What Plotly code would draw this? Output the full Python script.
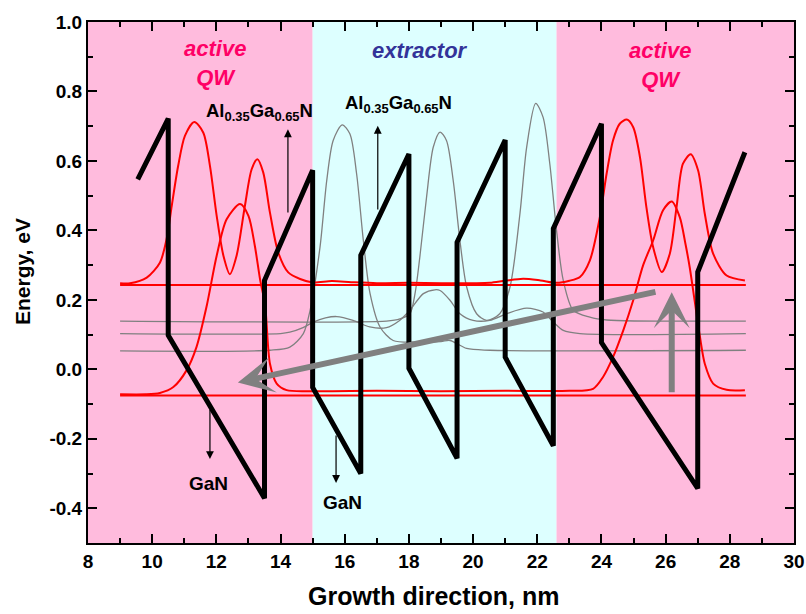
import plotly.graph_objects as go

FONT = "Liberation Sans, Arial, sans-serif"

# ---------------- data ----------------
# conduction band profile (thick black)
cb_x = [9.55, 10.5, 10.5, 13.5, 13.5, 15.0, 15.0, 16.5, 16.5, 18.0, 18.0, 19.5, 19.5,
        21.0, 21.0, 22.5, 22.5, 24.0, 24.0, 27.0, 27.0, 28.47]
cb_y = [0.547, 0.722, 0.098, -0.371, 0.256, 0.573, -0.052, -0.30, 0.328, 0.62, 0.003,
        -0.256, 0.366, 0.66, 0.035, -0.22, 0.405, 0.707, 0.077, -0.343, 0.28, 0.625]

# flat red energy levels
level_x = [9.0, 28.5]
level_upper = [0.243, 0.243]
level_lower = [-0.075, -0.075]

# upper active-QW wavefunction (red), baseline ~0.25
wf_up_x = [9.0, 9.31, 9.83, 10.24, 10.45, 10.61, 10.81, 11.02, 11.31, 11.59, 11.8, 12.01,
           12.22, 12.42, 12.63, 12.89, 13.1, 13.28, 13.46, 13.67, 13.93, 14.24, 14.61,
           15.0, 15.6, 16.2, 17.0, 18.0, 19.0, 20.0, 20.52, 21.0, 21.56, 22.1, 22.6,
           23.0, 23.33, 23.64, 23.95, 24.16, 24.36, 24.57, 24.79, 24.99, 25.2, 25.4,
           25.61, 25.88, 26.13, 26.34, 26.54, 26.78, 27.01, 27.22, 27.48, 27.9, 28.47]
wf_up_y = [0.248, 0.248, 0.264, 0.307, 0.375, 0.471, 0.586, 0.672, 0.712, 0.682, 0.586,
           0.442, 0.327, 0.274, 0.327, 0.471, 0.576, 0.605, 0.567, 0.451, 0.336, 0.279,
           0.26, 0.25, 0.254, 0.251, 0.248, 0.249, 0.248, 0.248, 0.249, 0.255, 0.261,
           0.256, 0.249, 0.255, 0.266, 0.314, 0.438, 0.563, 0.659, 0.707, 0.719, 0.697,
           0.611, 0.467, 0.352, 0.28, 0.333, 0.467, 0.592, 0.619, 0.573, 0.448, 0.333,
           0.27, 0.256]

# lower active-QW wavefunction (red), baseline ~ -0.063
wf_lo_x = [9.0, 9.8, 10.24, 10.66, 11.07, 11.38, 11.7, 12.01, 12.32, 12.74, 13.0, 13.2,
           13.36, 13.52, 13.67, 13.88, 14.19, 15.0, 17.0, 19.0, 21.0, 23.0, 23.74,
           24.05, 24.36, 24.68, 24.99, 25.3, 25.61, 25.92, 26.19, 26.44, 26.62, 26.75,
           26.9, 27.07, 27.22, 27.48, 27.9, 28.47]
wf_lo_y = [-0.072, -0.072, -0.068, -0.051, -0.003, 0.064, 0.183, 0.327, 0.432, 0.476,
           0.442, 0.355, 0.26, 0.183, 0.016, -0.041, -0.06, -0.063, -0.062, -0.063,
           -0.062, -0.062, -0.056, -0.022, 0.035, 0.112, 0.199, 0.30, 0.371, 0.458,
           0.483, 0.438, 0.36, 0.294, 0.20, 0.093, 0.016, -0.041, -0.059, -0.06]

# extractor wavefunctions (gray)
g1_x = [9.0, 17.3, 17.72, 18.03, 18.19, 18.34, 18.55, 18.76, 18.97, 19.17, 19.38, 19.59,
        19.8, 20.11, 20.42, 20.83, 21.15, 21.46, 21.67, 21.95, 22.18, 22.39, 22.6,
        22.81, 23.12, 23.64, 24.16, 28.5]
g1_y = [0.139, 0.139, 0.145, 0.16, 0.218, 0.323, 0.496, 0.64, 0.683, 0.659, 0.544, 0.371,
        0.237, 0.16, 0.141, 0.16, 0.237, 0.448, 0.64, 0.766, 0.726, 0.592, 0.40, 0.256,
        0.17, 0.15, 0.142, 0.139]

g2_x = [9.0, 14.0, 14.29, 14.7, 15.02, 15.4, 15.75, 16.26, 16.78, 17.3, 17.7, 18.03,
        18.45, 18.81, 18.97, 19.28, 19.59, 20.0, 20.52, 21.04, 21.67, 22.18, 22.5,
        22.81, 23.33, 28.5]
g2_y = [0.103, 0.103, 0.107, 0.12, 0.136, 0.148, 0.152, 0.141, 0.122, 0.12, 0.14, 0.17,
        0.218, 0.229, 0.227, 0.199, 0.16, 0.141, 0.141, 0.16, 0.176, 0.165, 0.136,
        0.112, 0.103, 0.103]

g3_x = [9.0, 13.67, 14.29, 14.71, 14.92, 15.23, 15.44, 15.64, 15.92, 16.16, 16.37, 16.58,
        16.79, 17.1, 17.51, 18.2, 19.0, 19.28, 19.8, 20.52, 28.5]
g3_y = [0.053, 0.055, 0.064, 0.103, 0.17, 0.352, 0.544, 0.659, 0.704, 0.678, 0.563,
        0.371, 0.218, 0.122, 0.083, 0.078, 0.08, 0.083, 0.06, 0.055, 0.055]

# region shading (x-ranges)
region_x0 = [8.0, 15.0, 22.6]
region_x1 = [15.0, 22.6, 30.0]
region_color = ["#FFBBDD", "#DDFFFF", "#FFBBDD"]

# axis ticks
x_tickvals = [8, 10, 12, 14, 16, 18, 20, 22, 24, 26, 28, 30]
x_ticktext = ["8", "10", "12", "14", "16", "18", "20", "22", "24", "26", "28", "30"]
y_tickvals = [-0.4, -0.2, 0.0, 0.2, 0.4, 0.6, 0.8, 1.0]
y_ticktext = ["-0.4", "-0.2", "0.0", "0.2", "0.4", "0.6", "0.8", "1.0"]

# ---------------- figure ----------------
fig = go.Figure()

for xs, ys in [(g1_x, g1_y), (g2_x, g2_y), (g3_x, g3_y)]:
    fig.add_trace(go.Scatter(x=xs, y=ys, mode="lines", line=dict(color="#808080", width=1.3, shape="spline", smoothing=0.8),
                             hoverinfo="skip", showlegend=False))

fig.add_trace(go.Scatter(x=level_x, y=level_upper, mode="lines", line=dict(color="#FF0000", width=2), showlegend=False))
fig.add_trace(go.Scatter(x=level_x, y=level_lower, mode="lines", line=dict(color="#FF0000", width=2), showlegend=False))
fig.add_trace(go.Scatter(x=wf_up_x, y=wf_up_y, mode="lines", line=dict(color="#FF0000", width=2, shape="spline", smoothing=0.8), showlegend=False))
fig.add_trace(go.Scatter(x=wf_lo_x, y=wf_lo_y, mode="lines", line=dict(color="#FF0000", width=2, shape="spline", smoothing=0.8), showlegend=False))

fig.add_trace(go.Scatter(x=cb_x, y=cb_y, mode="lines", line=dict(color="#000000", width=5), showlegend=False))

shapes = []
for x0, x1, c in zip(region_x0, region_x1, region_color):
    shapes.append(dict(type="rect", xref="x", yref="paper", x0=x0, x1=x1, y0=0, y1=1,
                       fillcolor=c, line=dict(width=0), layer="below"))

annotations = []
# text labels
def lab(x, y, text, size, color="#000000"):
    annotations.append(dict(x=x, y=y, xref="x", yref="y", text=text, showarrow=False,
                            font=dict(family=FONT, size=size, color=color, weight="bold"),
                            xanchor="center", yanchor="middle"))

lab(11.96, 0.882, "<i>active<br>QW</i>", 22, "#FF0066")
lab(25.82, 0.876, "<i>active<br>QW</i>", 22, "#FF0066")
lab(18.35, 0.917, "<i>extractor</i>", 22, "#333399")
lab(13.33, 0.74, "Al<sub>0.35</sub>Ga<sub>0.65</sub>N", 18.5)
lab(17.68, 0.765, "Al<sub>0.35</sub>Ga<sub>0.65</sub>N", 18.5)
lab(11.74, -0.33, "GaN", 19)
lab(15.92, -0.384, "GaN", 19)

# arrows: (head x, head y, tail x, tail y, color, width, style, size)
def arrow(hx, hy, tx, ty, color, width, head, size):
    annotations.append(dict(x=hx, y=hy, ax=tx, ay=ty, xref="x", yref="y", axref="x", ayref="y",
                            text="", showarrow=True, arrowcolor=color, arrowwidth=width,
                            arrowhead=head, arrowsize=size, standoff=0))

arrow(14.23, 0.691, 14.23, 0.447, "#000000", 1.2, 2, 1.3)
arrow(17.03, 0.701, 17.03, 0.456, "#000000", 1.2, 2, 1.3)
arrow(11.8, -0.258, 11.8, -0.112, "#000000", 1.2, 2, 1.3)
arrow(15.73, -0.327, 15.73, -0.186, "#000000", 1.2, 2, 1.3)
arrow(12.67, -0.038, 25.73, 0.224, "#808080", 6, 3, 1.0)
arrow(26.19, 0.222, 26.19, -0.07, "#808080", 6, 3, 1.0)

# axis titles
annotations.append(dict(xref="paper", yref="paper", x=-0.0935, y=0.522, text="Energy, eV", textangle=-90,
                        showarrow=False, xanchor="center", yanchor="middle",
                        font=dict(family=FONT, size=21, color="#000000", weight="bold")))
annotations.append(dict(xref="paper", yref="paper", x=0.49, y=-0.1025, text="Growth direction, nm",
                        showarrow=False, xanchor="center", yanchor="middle",
                        font=dict(family=FONT, size=25, color="#000000", weight="bold")))

axis_common = dict(showline=True, linewidth=2, linecolor="#000000", mirror="ticks",
                   ticks="inside", ticklen=9, tickwidth=2, tickcolor="#000000",
                   showgrid=False, zeroline=False, ticklabeloverflow="allow", automargin=False,
                   tickfont=dict(family=FONT, size=19, color="#000000", weight="bold"))

fig.update_layout(
    width=806, height=614,
    margin=dict(l=88, r=12, t=22, b=71, autoexpand=False),
    paper_bgcolor="#FFFFFF", plot_bgcolor="#FFFFFF",
    showlegend=False,
    shapes=shapes, annotations=annotations,
    xaxis=dict(range=[8, 30], tickvals=x_tickvals, ticktext=x_ticktext,
               minor=dict(dtick=1, ticks="inside", ticklen=5, tickwidth=2, tickcolor="#000000"),
               **axis_common),
    yaxis=dict(range=[-0.5, 1.0], tickvals=y_tickvals, ticktext=y_ticktext,
               minor=dict(dtick=0.1, ticks="inside", ticklen=5, tickwidth=2, tickcolor="#000000"),
               **axis_common),
)

# remove the default 8px page margin so the figure fills the window exactly
fig.write_html("out.html", config={"displayModeBar": False, "staticPlot": True},
               post_script="document.body.style.margin='0';document.body.style.overflow='hidden';")
